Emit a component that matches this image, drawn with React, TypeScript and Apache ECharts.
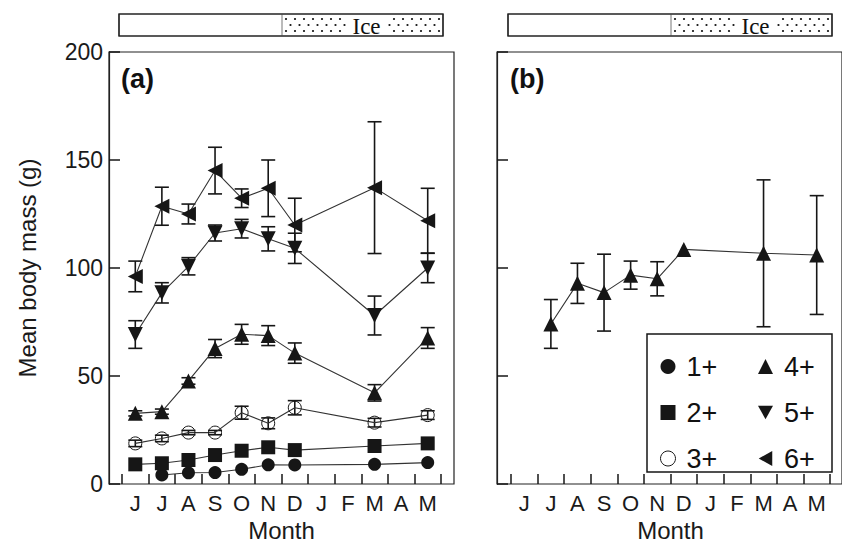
import React, { useEffect, useRef } from 'react';
import * as echarts from 'echarts';

const months = ['J', 'J', 'A', 'S', 'O', 'N', 'D', 'J', 'F', 'M', 'A', 'M'];

// Panel (a): mean body mass (g) by age class
const mass1 = [null, 4.2, 5.2, 5.3, 6.8, 8.9, 8.8, null, null, 9.1, null, 9.9];
const mass2 = [9.1, 9.6, 11.1, 13.4, 15.4, 17.0, 15.7, null, null, 17.6, null, 18.8];
const mass3 = [18.8, 21.1, 23.8, 23.8, 33.0, 28.1, 35.3, null, null, 28.4, null, 31.9];
const mass4 = [32.7, 33.5, 47.7, 62.7, 69.3, 68.7, 60.6, null, null, 42.2, null, 67.6];
const mass5 = [69.2, 88.5, 100.8, 116.2, 118.2, 113.5, 109.1, null, null, 78.0, null, 100.0];
const mass6 = [96.1, 128.6, 125.0, 145.1, 132.3, 136.9, 119.9, null, null, 137.2, null, 121.9];

const err1 = [0, 0, 0, 0, 0, 0, 0, 0, 0, 0, 0, 0];
const err2 = [0, 0, 0, 0, 0, 0, 0, 0, 0, 0, 0, 0];
const err3 = [1.5, 1.5, 1, 1, 3, 2.5, 3.3, 0, 0, 2, 0, 2];
const err4 = [1.2, 1.2, 1.5, 4.2, 4.6, 4.6, 4.7, 0, 0, 3.8, 0, 4.8];
const err5 = [6.4, 4.7, 4.0, 3.7, 4.3, 5.6, 7.0, 0, 0, 9.0, 0, 6.8];
const err6 = [7.1, 8.8, 4.6, 10.8, 4.3, 13.1, 12.4, 0, 0, 30.5, 0, 15.0];

// Panel (b): age 4+
const massB = [null, 74.1, 92.9, 88.6, 96.7, 95.0, 108.6, null, null, 106.8, null, 106.0];
const errB = [0, 11.3, 9.3, 17.8, 6.5, 7.9, 0, 0, 0, 34.0, 0, 27.5];

const yTicks = { min: 0, max: 200, interval: 50 };

const FONT = 'Liberation Sans, Arial, Helvetica, sans-serif';
const INK = '#161616';
const TXT = '#1a1a1a';
const DOWN = 'path://M0,0 L10,0 L5,9 Z';
const LEFT = 'path://M9,0 L9,10 L0,5 Z';

function errData(means: (number | null)[], errs: number[]) {
  const out: number[][] = [];
  means.forEach((m, i) => {
    if (m != null && errs[i] > 0) out.push([i, m - errs[i], m + errs[i]]);
  });
  return out;
}

function errorSeries(name: string, means: (number | null)[], errs: number[], xi: number) {
  return {
    type: 'custom',
    name,
    xAxisIndex: xi,
    yAxisIndex: xi,
    z: 1,
    encode: { x: 0, y: [1, 2] },
    data: errData(means, errs),
    renderItem: (params: any, api: any) => {
      const x = api.value(0);
      const p1 = api.coord([x, api.value(1)]);
      const p2 = api.coord([x, api.value(2)]);
      const w = 7;
      const st = { stroke: INK, lineWidth: 1.6 };
      return {
        type: 'group',
        children: [
          { type: 'line', shape: { x1: p1[0], y1: p1[1], x2: p2[0], y2: p2[1] }, style: st },
          { type: 'line', shape: { x1: p1[0] - w, y1: p1[1], x2: p1[0] + w, y2: p1[1] }, style: st },
          { type: 'line', shape: { x1: p2[0] - w, y1: p2[1], x2: p2[0] + w, y2: p2[1] }, style: st },
        ],
      };
    },
  };
}

function lineSeries(name: string, data: (number | null)[], symbol: string, size: number, xi: number, hollow = false) {
  return {
    type: 'line',
    name,
    xAxisIndex: xi,
    yAxisIndex: xi,
    data,
    connectNulls: true,
    symbol,
    symbolSize: size,
    showAllSymbol: true,
    z: 3,
    lineStyle: { color: '#333', width: 1.1 },
    itemStyle: hollow
      ? { color: 'rgba(255,255,255,0)', borderColor: INK, borderWidth: 1 }
      : { color: INK, borderWidth: 0 },
    emphasis: { disabled: true },
  };
}

function iceBar(x0: number, xIce: number, x1: number, y0: number, h: number) {
  const els: any[] = [];
  els.push({ type: 'rect', shape: { x: x0, y: y0, width: x1 - x0, height: h }, style: { fill: '#fff', stroke: '#222', lineWidth: 1.2 }, z: 10 });
  const textCx = (xIce + x1) / 2 + 4;
  for (let r = 0; r < 3; r++) {
    const yy = y0 + 5 + r * 6;
    for (let xx = xIce + 4 + (r % 2) * 4.5; xx < x1 - 2; xx += 9) {
      if (Math.abs(xx - textCx) < 19) continue;
      els.push({ type: 'circle', shape: { cx: xx, cy: yy, r: 1.1 }, style: { fill: '#222' }, z: 11 });
    }
  }
  els.push({ type: 'line', shape: { x1: xIce, y1: y0, x2: xIce, y2: y0 + h }, style: { stroke: '#777', lineWidth: 1 }, z: 11 });
  els.push({ type: 'rect', shape: { x: x0, y: y0, width: x1 - x0, height: h }, style: { fill: 'none', stroke: '#222', lineWidth: 1.2 }, z: 12 });
  els.push({
    type: 'text', x: textCx, y: y0 + h / 2 + 1, z: 12,
    style: { text: 'Ice', fontFamily: 'Liberation Serif, Times New Roman, serif', fontSize: 23, fill: '#111', align: 'center', verticalAlign: 'middle' },
  });
  return els;
}

const catAxis = (gi: number) => ({
  gridIndex: gi,
  type: 'category',
  data: months,
  boundaryGap: true,
  axisLine: { show: false },
  axisTick: { show: true, inside: true, length: 10, lineStyle: { color: INK, width: 1.5 } },
  axisLabel: { interval: 0, margin: 8, fontSize: 22, color: TXT, fontFamily: FONT },
  splitLine: { show: false },
  name: 'Month',
  nameLocation: 'middle',
  nameGap: 34,
  nameTextStyle: { fontSize: 24, color: TXT, fontFamily: FONT },
});

const frameY = (gi: number, labels: boolean) => ({
  gridIndex: gi,
  type: 'value',
  ...yTicks,
  axisLine: { show: true, lineStyle: { color: '#222', width: 1.2 } },
  axisTick: { show: true, inside: true, length: 11, lineStyle: { color: INK, width: 1.5 } },
  axisLabel: { show: labels, fontSize: 23, margin: 6, color: TXT, fontFamily: FONT },
  splitLine: { show: false },
  ...(labels
    ? { name: 'Mean body mass (g)', nameLocation: 'middle', nameGap: 70, nameTextStyle: { fontSize: 24, color: TXT, fontFamily: FONT } }
    : {}),
});

const hiddenY = (gi: number) => ({ gridIndex: gi, type: 'value', ...yTicks, show: false, splitLine: { show: false } });

export default function App() {
  const ref = useRef<HTMLDivElement>(null);
  useEffect(() => {
    document.body.style.margin = '0';
    const chart = echarts.init(ref.current!, null, { renderer: 'svg' });
    const legendCommon = {
      orient: 'vertical',
      top: 348,
      itemWidth: 15,
      itemHeight: 15,
      itemGap: 19,
      selectedMode: false,
      textStyle: { fontSize: 27, color: '#111', fontFamily: FONT, padding: [0, 0, 0, 6] },
    };
    chart.setOption({
      animation: false,
      backgroundColor: '#fff',
      textStyle: { fontFamily: FONT },
      grid: [
        { left: 109, top: 52, width: 345, height: 432, show: true, borderColor: '#222', borderWidth: 1.2, backgroundColor: 'transparent' },
        { left: 122, top: 52, width: 319, height: 432 },
        { left: 497, top: 52, width: 347, height: 432, show: true, borderColor: '#222', borderWidth: 1.2, backgroundColor: 'transparent' },
        { left: 511, top: 52, width: 319, height: 432 },
      ],
      xAxis: [
        { gridIndex: 0, type: 'value', show: false, min: 0, max: 1 },
        catAxis(1),
        { gridIndex: 2, type: 'value', show: false, min: 0, max: 1 },
        catAxis(3),
      ],
      yAxis: [frameY(0, true), hiddenY(1), frameY(2, false), hiddenY(3)],
      legend: [
        { ...legendCommon, left: 655, data: [{ name: '1+', icon: 'circle' }, { name: '2+', icon: 'rect' }, { name: '3+', icon: 'circle', itemStyle: { color: '#fff', borderColor: INK, borderWidth: 1 } }] },
        { ...legendCommon, left: 753, data: [{ name: '4+', icon: 'triangle' }, { name: '5+', icon: DOWN }, { name: '6+', icon: LEFT }] },
      ],
      graphic: [
        ...iceBar(119, 282, 443, 14, 22),
        ...iceBar(508, 671, 832, 14, 22),
        { type: 'text', x: 121, y: 65, style: { text: '(a)', fontFamily: FONT, fontWeight: 'bold', fontSize: 27, fill: '#111' } },
        { type: 'text', x: 510, y: 65, style: { text: '(b)', fontFamily: FONT, fontWeight: 'bold', fontSize: 27, fill: '#111' } },
        { type: 'rect', z: 3, shape: { x: 647, y: 334, width: 185, height: 138 }, style: { fill: '#fff', stroke: INK, lineWidth: 1.5 } },
      ],
      series: [
        errorSeries('e1', mass1, err1, 1),
        errorSeries('e2', mass2, err2, 1),
        errorSeries('e3', mass3, err3, 1),
        errorSeries('e4', mass4, err4, 1),
        errorSeries('e5', mass5, err5, 1),
        errorSeries('e6', mass6, err6, 1),
        lineSeries('1+', mass1, 'circle', 13, 1),
        lineSeries('2+', mass2, 'rect', 14, 1),
        lineSeries('3+', mass3, 'circle', 13, 1, true),
        lineSeries('4+', mass4, 'triangle', 15, 1),
        lineSeries('5+', mass5, DOWN, 15, 1),
        lineSeries('6+', mass6, LEFT, 15, 1),
        errorSeries('eB', massB, errB, 3),
        lineSeries('4+', massB, 'triangle', 15, 3),
      ],
    });
    return () => chart.dispose();
  }, []);
  return <div ref={ref} style={{ width: 842, height: 548 }} />;
}
